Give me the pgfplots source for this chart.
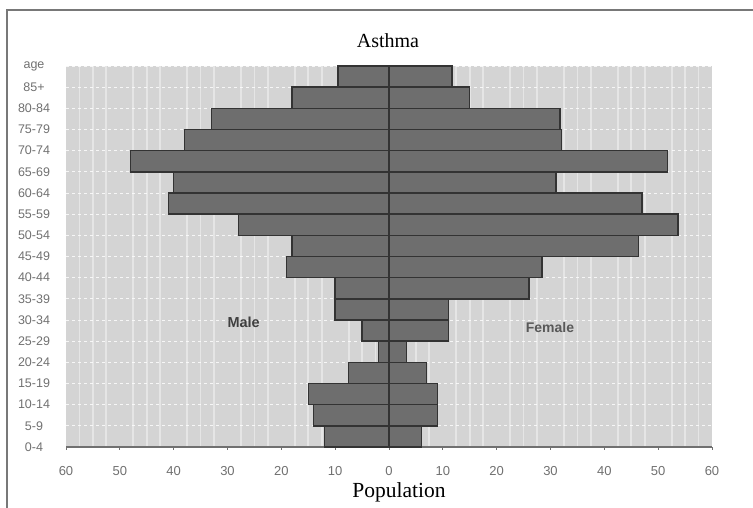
\documentclass[border=0pt]{standalone}
\usepackage{fontspec}
\setmainfont{Liberation Serif}
\setsansfont{Liberation Sans}
\usepackage{pgfplots}
\pgfplotsset{compat=1.18}
\definecolor{PlotBg}{HTML}{D4D4D4}
\definecolor{BarFill}{HTML}{6E6E6E}
\definecolor{BarEdge}{HTML}{333333}
\definecolor{TickGray}{HTML}{707070}
\definecolor{FrameGray}{HTML}{787878}

% bars from bottom to top, one unit each
\pgfplotstableread{
y    male   female
0.5  -12    6
1.5  -14    9
2.5  -15    9
3.5  -7.5   7
4.5  -2     3.3
5.5  -5     11
6.5  -10    11
7.5  -10    26
8.5  -19    28.4
9.5  -18    46.3
10.5 -28    53.7
11.5 -41    47
12.5 -40    31
13.5 -48    51.7
14.5 -38    32
15.5 -33    31.8
16.5 -18    15
17.5 -9.5   11.7
}\asthma

\begin{document}
\begin{tikzpicture}
\useasboundingbox (0,0) rectangle (753pt,508pt);
\draw[FrameGray, line width=2.2pt] (7pt,0) -- (7pt,498pt) -- (753pt,498pt);
\node[font=\fontsize{20}{22}\selectfont] at (388pt,467pt) {Asthma};
\node[font=\fontsize{21.5}{24}\selectfont] at (399pt,16pt) {Population};
\begin{axis}[
  at={(66pt,61pt)}, anchor=south west,
  scale only axis, width=646pt, height=381pt,
  xmin=-60, xmax=60, ymin=0, ymax=18,
  axis background/.style={fill=PlotBg},
  axis x line*=bottom, axis y line*=left,
  x axis line style={TickGray, line width=1.4pt, -},
  y axis line style={draw=none},
  xtick={-60,-50,...,60},
  xticklabels={60,50,40,30,20,10,0,10,20,30,40,50,60},
  minor x tick num=3,
  ytick={0,...,18},
  yticklabels={0-4,5-9,10-14,15-19,20-24,25-29,30-34,35-39,40-44,45-49,50-54,55-59,60-64,65-69,70-74,75-79,80-84,85+,age},
  tick align=outside,
  x tick style={TickGray, line width=0.9pt},
  major tick length=3pt, minor tick length=0pt,
  y tick style={draw=none},
  xticklabel style={font=\sffamily\fontsize{13}{14}\selectfont, text=TickGray, yshift=-13pt},
  yticklabel style={font=\sffamily\fontsize{12.5}{14}\selectfont, text=TickGray, anchor=center, xshift=-29pt},
  /pgf/number format/assume math mode=true,
  ymajorgrids, xminorgrids,
  major grid style={white, dashed, line width=0.7pt, opacity=0.8},
  minor grid style={white, line width=1.8pt, opacity=0.4},
  xbar stacked, bar width=1, bar shift=0pt,
  clip=false,
]
\addplot[fill=BarFill, draw=BarEdge, line width=1.4pt] table[x=male, y=y] {\asthma};
\addplot[fill=BarFill, draw=BarEdge, line width=1.4pt, xbar, bar shift=0pt] table[x=female, y=y] {\asthma};
\addplot[black, line width=1.4pt, sharp plot] coordinates {(0,0) (0,18)};
\node[font=\sffamily\bfseries\fontsize{14.5}{16}\selectfont, text=black!75] at (axis cs:-27,5.9) {Male};
\node[font=\sffamily\bfseries\fontsize{14}{16}\selectfont, text=black!65] at (axis cs:29.9,5.65) {Female};
\end{axis}
\end{tikzpicture}
\end{document}
